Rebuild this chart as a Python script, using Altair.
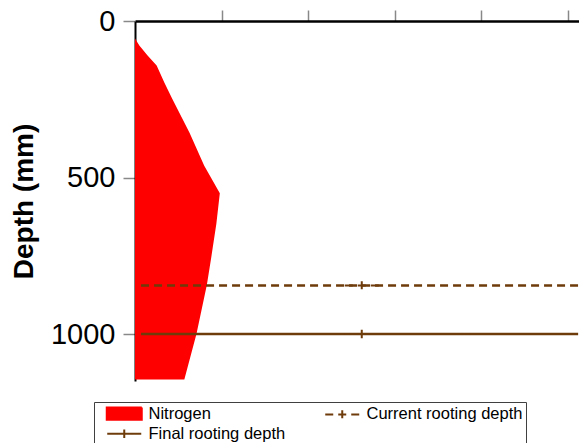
import altair as alt
import pandas as pd

# ---- data ----
depth_mm = [56, 78, 110, 142, 197, 248, 357, 462, 550, 648, 757, 843, 1000, 1145]
nitrogen = [0.0, 0.05, 0.145, 0.25, 0.34, 0.43, 0.63, 0.80, 0.98, 0.94, 0.88, 0.83, 0.71, 0.57]

series_names = ["Nitrogen", "Current rooting depth", "Final rooting depth"]
rooting_names = ["Current rooting depth", "Final rooting depth"]
rooting_depth = [845, 1000]
line_x_start = [0.07, 0.07]
line_x_end = [5.12, 5.12]
marker_x = [2.62, 2.62]

x_ticks = [1, 2, 3, 4, 5]
y_ticks = [0, 500, 1000]

# ---- styling ----
FONT = "Liberation Sans"
RED = "#ff0000"
BROWN = "#6e3b0a"
RECT = "M-2.5,-0.86H2.5V0.86H-2.5Z"
LINE = "M-2.43,0H2.43M0,-0.6V0.6"

area_df = pd.DataFrame({"depth": depth_mm, "nitrogen": nitrogen,
                        "series": ["Nitrogen"] * len(depth_mm)})
line_rows = []
for name, d, xs, xe in zip(rooting_names, rooting_depth, line_x_start, line_x_end):
    line_rows.append({"series": name, "depth": d, "x": xs})
    line_rows.append({"series": name, "depth": d, "x": xe})
line_df = pd.DataFrame(line_rows)
marker_df = pd.DataFrame({"series": rooting_names, "depth": rooting_depth, "x": marker_x})

x_scale = alt.Scale(domain=[0, 5.13], nice=False, zero=False)
y_scale = alt.Scale(domain=[0, 1150], nice=False, reverse=True, zero=False)

fill_scale = alt.Scale(domain=series_names, range=[RED, "transparent", "transparent"])
stroke_scale = alt.Scale(domain=series_names, range=[RED, BROWN, BROWN])
dash_scale = alt.Scale(domain=series_names, range=[[1, 0], [8, 5], [1, 0]])
shape_scale = alt.Scale(domain=series_names, range=[RECT, LINE, LINE])

legend = alt.Legend(
    title=None, orient="none", legendX=-41, legendY=381,
    direction="horizontal",
    columns=2, columnPadding=29, rowPadding=1.5, padding=3,
    symbolSize=196, symbolOffset=19, labelOffset=16, symbolStrokeWidth=2,
    labelFont=FONT, labelFontSize=16.5, labelColor="#000000", labelLimit=400,
    strokeColor="#404040", fillColor="#ffffff",
)

x_axis = alt.Axis(orient="top", values=x_ticks, labels=False, title=None,
                  grid=False, tickColor="#888888", tickSize=11, tickWidth=1.5,
                  domainColor="#000000", domainWidth=2.5)
y_axis = alt.Axis(values=y_ticks, format="d", title="Depth (mm)", grid=False,
                  labelFont=FONT, labelFontSize=29, labelColor="#000000",
                  labelPadding=8, tickColor="#888888", tickSize=12, tickWidth=1.5,
                  domainColor="#000000", domainWidth=2,
                  titleFont=FONT, titleFontSize=28, titleFontWeight="bold",
                  titleColor="#000000", titlePadding=12)

area = alt.Chart(area_df).mark_area(orient="horizontal", opacity=1).encode(
    x=alt.X("nitrogen:Q", scale=x_scale, axis=x_axis, stack=None),
    y=alt.Y("depth:Q", scale=y_scale, axis=y_axis),
    fill=alt.Fill("series:N", scale=fill_scale, legend=legend),
)

lines = alt.Chart(line_df).mark_line(strokeWidth=2.5).encode(
    x=alt.X("x:Q", scale=x_scale),
    y=alt.Y("depth:Q", scale=y_scale),
    stroke=alt.Stroke("series:N", scale=stroke_scale, legend=legend),
    strokeDash=alt.StrokeDash("series:N", scale=dash_scale, legend=legend),
)

markers = alt.Chart(marker_df).mark_point(size=196, strokeWidth=2, opacity=1).encode(
    x=alt.X("x:Q", scale=x_scale),
    y=alt.Y("depth:Q", scale=y_scale),
    fill=alt.Fill("series:N", scale=fill_scale, legend=legend),
    stroke=alt.Stroke("series:N", scale=stroke_scale, legend=legend),
    strokeDash=alt.StrokeDash("series:N", scale=dash_scale, legend=legend),
    shape=alt.Shape("series:N", scale=shape_scale, legend=legend),
)

chart = alt.layer(area, lines, markers).properties(
    width=444, height=360,
    autosize=alt.AutoSizeParams(type="none"),
    padding={"left": 127, "top": 13, "right": 0, "bottom": 62},
    background="#ffffff",
).configure_view(stroke=None)

chart.save("out.html", embed_options={"renderer": "svg", "actions": False})
